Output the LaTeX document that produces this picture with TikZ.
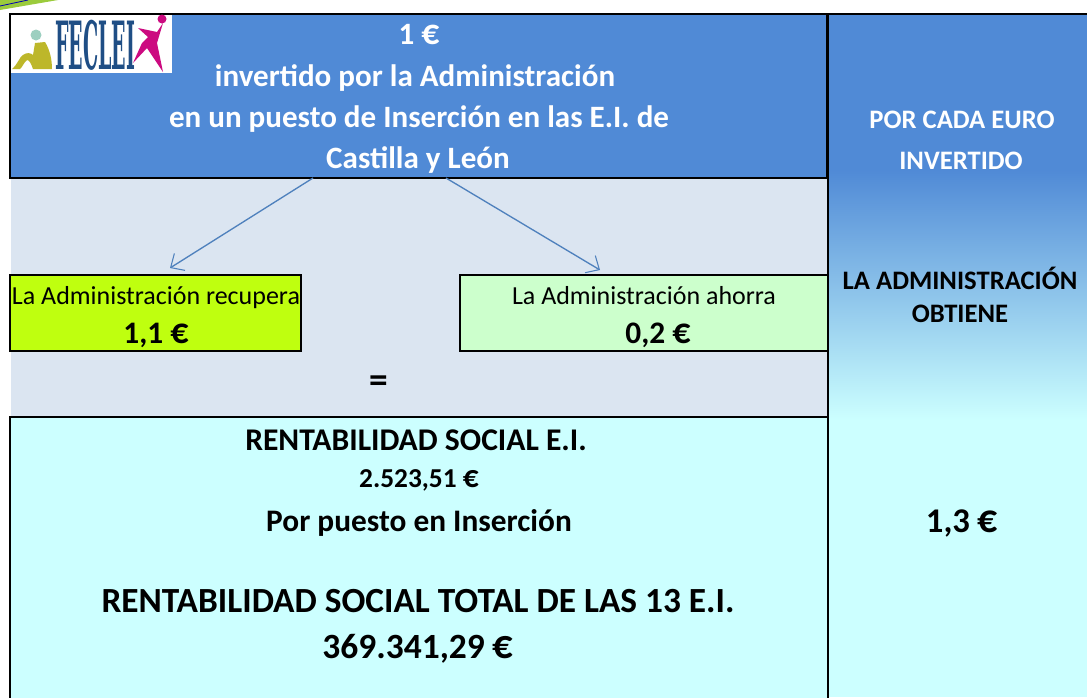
\documentclass[tikz,border=0pt]{standalone}
\usepackage{fontspec}
\usepackage{graphicx}
\setmainfont{Carlito}
\newfontfamily\logofont{DejaVu Serif}
\usetikzlibrary{arrows.meta}
\definecolor{hdrblue}{HTML}{508AD6}
\definecolor{palegrey}{HTML}{DBE5F1}
\definecolor{lime}{HTML}{BFFF0F}
\definecolor{palegreen}{HTML}{CCFFCC}
\definecolor{palecyan}{HTML}{CCFFFF}
\definecolor{arrowblue}{HTML}{4F81BD}
\definecolor{logoblue}{HTML}{1F4E85}
\definecolor{logopink}{HTML}{CC0A80}
\definecolor{logoolive}{HTML}{BDB72A}
\definecolor{logoteal}{HTML}{9CCFC0}
\definecolor{streak}{HTML}{9BCB3C}
\tikzset{
  box/.style={draw=black,line width=1.6pt,anchor=north west,inner sep=0pt,outer sep=0pt},
  txt/.style={inner sep=0pt,align=center,anchor=base},
  conn/.style={draw=arrowblue,line width=1pt,-{Straight Barb[length=8pt,width=15pt,line width=0.8pt]}},
}
\newcommand{\fs}[1]{\fontsize{#1}{#1}\selectfont}
\newcommand{\eur}{\scalebox{1.15}{€}}
\begin{document}
\begin{tikzpicture}[x=0.75pt,y=-0.75pt]
\useasboundingbox (0,0) rectangle (1087,697);
\fill[white] (0,0) rectangle (1087,697);
% top-left green streak
\fill[streak] (0,0) -- (58,0) -- (0,10) -- cycle;
\draw[blue!70!black,line width=0.6pt] (0,6) -- (28,0);
% backgrounds
\fill[palegrey] (11,178) rectangle (828,417);
\fill[hdrblue] (828,14) rectangle (1087,170);
\shade[top color=hdrblue,bottom color=palecyan] (828,170) rectangle (1087,420);
\fill[palecyan] (828,420) rectangle (1087,697);
% boxes
\node[box,fill=hdrblue,minimum width=817*0.75pt,minimum height=164*0.75pt] (head) at (10,14) {};
\node[box,fill=lime,minimum width=291*0.75pt,minimum height=76*0.75pt] (rec) at (10,275) {};
\node[box,fill=palegreen,minimum width=368*0.75pt,minimum height=76*0.75pt] (aho) at (460,275) {};
\node[box,fill=palecyan,minimum width=818*0.75pt,minimum height=285*0.75pt] (rent) at (10,417) {};
\draw[black,line width=1.6pt] (828,13) -- (828,697);
\draw[black,line width=1.6pt] (head.north west) -- (1087,14);
% logo
\fill[white] (11,15) rectangle (172,73);
\node[inner sep=0pt,text=logoblue,anchor=center] (logotext) at (95,45.5) {\resizebox{60pt}{37pt}{\logofont\bfseries FECLEI}};
\fill[logoteal] (36,35) circle (5.5);
\fill[logoolive] (12,69) .. controls (18,64) and (20,56) .. (23,55) .. controls (27,52) and (31,53) .. (33,55) -- (35,43) -- (45,42) .. controls (50,50) and (52,60) .. (52,69) -- (33,69) .. controls (31,63) and (29,60) .. (27,60) .. controls (24,62) and (22,68) .. (20,69) -- cycle;
\fill[logopink] (162,19) circle (4.5);
\fill[logopink] (138,28) -- (157,32) -- (163,23) -- (157,43) -- (163,72) -- (147,48) -- (133,63) -- (142,43) -- (148,37) -- cycle;
% head text
\node[txt,text=white,font=\bfseries\fs{23.3}] (t1) at (419,44) {1 \eur};
\node[txt,text=white,font=\bfseries\fs{23.3}] (t2) at (415,86) {invertido por la Administración};
\node[txt,text=white,font=\bfseries\fs{23.3}] (t3) at (419,127) {en un puesto de Inserción en las E.I. de};
\node[txt,text=white,font=\bfseries\fs{23.3}] (t4) at (418,168) {Castilla y León};
% right column
\node[txt,text=white,font=\bfseries\fs{20}] (r1) at (962,128) {POR CADA EURO};
\node[txt,text=white,font=\bfseries\fs{20}] (r2) at (961,169) {INVERTIDO};
\node[txt,text=black,font=\bfseries\fs{20}] (r3) at (960,289) {LA ADMINISTRACIÓN};
\node[txt,text=black,font=\bfseries\fs{20}] (r4) at (960,322) {OBTIENE};
\node[txt,font=\bfseries\fs{26}] (r5) at (962,532) {1,3 \eur};
% small boxes text
\node[txt,font=\fs{19.5}] (a1) at (156,304) {La Administración recupera};
\node[txt,font=\bfseries\fs{23.5}] (a2) at (156,343) {1,1 \eur};
\node[txt,font=\fs{19.5}] (b1) at (644,304) {La Administración ahorra};
\node[txt,font=\bfseries\fs{23.5}] (b2) at (658,343) {0,2 \eur};
\node[txt,font=\bfseries\fs{28}] (eq) at (379,392) {=};
% bottom text
\node[txt,font=\bfseries\fs{23.7}] (c1) at (416,450) {RENTABILIDAD SOCIAL E.I.};
\node[txt,font=\bfseries\fs{20.5}] (c2) at (419,487) {2.523,51 \eur};
\node[txt,font=\bfseries\fs{23.5}] (c3) at (419,531) {Por puesto en Inserción};
\node[txt,font=\bfseries\fs{26.5}] (c4) at (418,612) {RENTABILIDAD SOCIAL TOTAL DE LAS 13 E.I.};
\node[txt,font=\bfseries\fs{26.6}] (c5) at (418,658) {369.341,29 \eur};
% connectors
\coordinate (s1) at (313,178);
\coordinate (e1) at (170,268);
\coordinate (s2) at (446,178);
\coordinate (e2) at (600,270);
\draw[conn] (s1) -- (e1);
\draw[conn] (s2) -- (e2);
\end{tikzpicture}
\end{document}
